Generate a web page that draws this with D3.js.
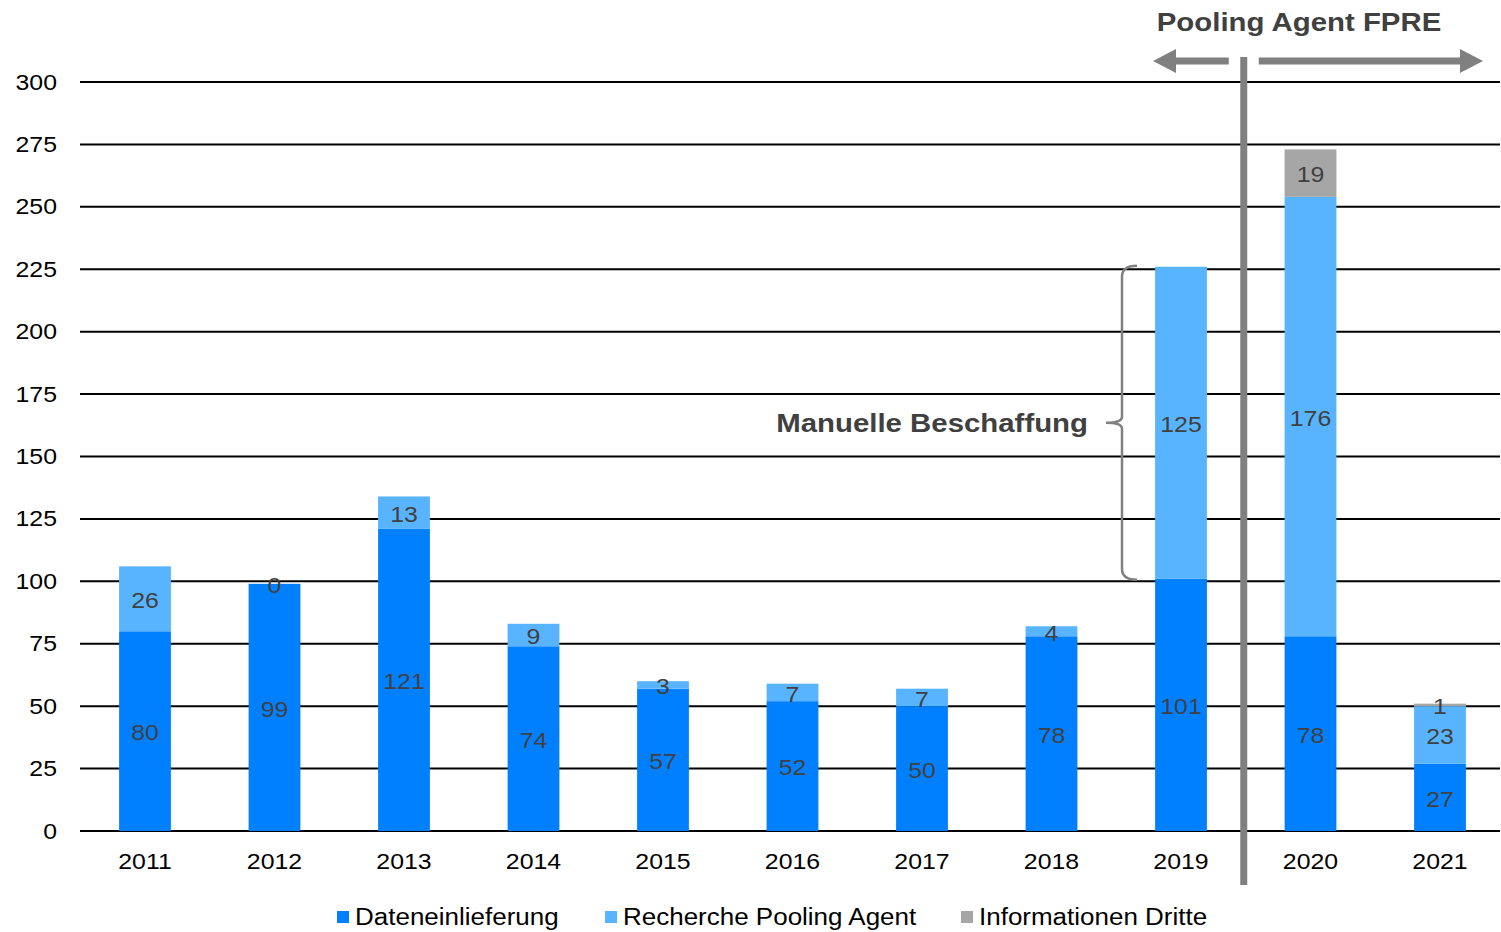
<!DOCTYPE html>
<html>
<head>
<meta charset="utf-8">
<script src="https://cdn.jsdelivr.net/npm/d3@7"></script>
<style>
  body { margin: 0; background: #fff; }
  text { font-family: "Liberation Sans", Arial, sans-serif; }
</style>
</head>
<body>
<svg id="chart" width="1501" height="932"></svg>
<script>
const years = ["2011", "2012", "2013", "2014", "2015", "2016", "2017", "2018", "2019", "2020", "2021"];
const dateneinlieferung = [80, 99, 121, 74, 57, 52, 50, 78, 101, 78, 27];
const recherche = [26, 0, 13, 9, 3, 7, 7, 4, 125, 176, 23];
const informationen = [0, 0, 0, 0, 0, 0, 0, 0, 0, 19, 1];
const seriesNames = ["Dateneinlieferung", "Recherche Pooling Agent", "Informationen Dritte"];
const yTicks = [0, 25, 50, 75, 100, 125, 150, 175, 200, 225, 250, 275, 300];

const colors = ["#0080ff", "#59b4ff", "#a6a6a6"];
const plotLeft = 80, plotRight = 1500, plotTop = 82, plotBottom = 831;
const stretch = 1.13; // reference glyphs are a bit wider than plain Arial

const svg = d3.select("#chart");

const x = d3.scaleBand().domain(years).range([80.25, 1504.75]).paddingInner(0.6).paddingOuter(0.3);
const y = d3.scaleLinear().domain([0, 300]).range([plotBottom, plotTop]);

// gridlines
svg.append("g").selectAll("line").data(yTicks).join("line")
  .attr("x1", plotLeft).attr("x2", plotRight)
  .attr("y1", d => y(d)).attr("y2", d => y(d))
  .attr("stroke", "#000").attr("stroke-width", 2);

// y labels
let yAxis = svg.append("g").attr("transform", `translate(${plotLeft},0)`)
  .call(d3.axisLeft(y).tickValues(yTicks).tickSize(0).tickPadding(23));
yAxis.select(".domain").remove();
yAxis.selectAll("text").attr("font-size", 22).attr("fill", "#000")
  .attr("font-family", "Liberation Sans, Arial, sans-serif");

// x labels
let xAxis = svg.append("g").attr("transform", `translate(0,${plotBottom})`)
  .call(d3.axisBottom(x).tickSize(0).tickPadding(22));
xAxis.select(".domain").remove();
xAxis.selectAll("text").attr("font-size", 22).attr("fill", "#000")
  .attr("font-family", "Liberation Sans, Arial, sans-serif");

const table = years.map((yr, i) => ({ year: yr, s0: dateneinlieferung[i], s1: recherche[i], s2: informationen[i] }));
const stack = d3.stack().keys(["s0", "s1", "s2"])(table);

const groups = svg.append("g").selectAll("g").data(stack).join("g")
  .attr("fill", (d, i) => colors[i]);
groups.selectAll("rect").data(d => d).join("rect")
  .attr("x", d => x(d.data.year))
  .attr("width", x.bandwidth())
  .attr("y", d => y(d[1]))
  .attr("height", d => y(d[0]) - y(d[1]));

// value labels
stack.forEach((layer, li) => {
  svg.append("g").selectAll("text").data(layer.filter(d => li < 2 || d[1] - d[0] > 0)).join("text")
    .attr("x", d => x(d.data.year) + x.bandwidth() / 2)
    .attr("y", d => y((d[0] + d[1]) / 2))
    .attr("dy", "0.42em")
    .attr("text-anchor", "middle")
    .attr("font-size", 22)
    .attr("fill", "#404040")
    .text(d => d[1] - d[0]);
});

// separator between 2019 and 2020
const sepX = (x("2019") + x.bandwidth() + x("2020")) / 2 - 2;
svg.append("line").attr("x1", sepX).attr("x2", sepX).attr("y1", 57).attr("y2", 885)
  .attr("stroke", "#808080").attr("stroke-width", 7);

// arrows
const arrowY = 61;
function arrow(x1, x2) {
  const dir = Math.sign(x2 - x1);
  const headLen = 23;
  svg.append("line").attr("x1", x1).attr("x2", x2 - dir * headLen)
    .attr("y1", arrowY).attr("y2", arrowY)
    .attr("stroke", "#808080").attr("stroke-width", 7);
  svg.append("path")
    .attr("d", `M${x2},${arrowY} L${x2 - dir * headLen},${arrowY - 12} L${x2 - dir * headLen},${arrowY + 12} Z`)
    .attr("fill", "#808080");
}
arrow(sepX - 15, 1153);
arrow(sepX + 15, 1483);

svg.append("text").attr("x", 1299).attr("y", 31).attr("text-anchor", "middle")
  .attr("font-size", 26).attr("font-weight", "bold").attr("fill", "#404040")
  .text("Pooling Agent FPRE");

// bracket for 2019 recherche
const bTop = y(dateneinlieferung[8] + recherche[8]), bBot = y(dateneinlieferung[8]);
const bx = 1122, bMid = (bTop + bBot) / 2;
svg.append("path")
  .attr("d", `M${bx + 15},${bTop - 1} Q${bx},${bTop - 1} ${bx},${bTop + 10} L${bx},${bMid - 6} Q${bx},${bMid} ${bx - 16},${bMid} Q${bx},${bMid} ${bx},${bMid + 6} L${bx},${bBot - 10} Q${bx},${bBot + 1} ${bx + 15},${bBot + 1}`)
  .attr("fill", "none").attr("stroke", "#808080").attr("stroke-width", 2.5);
svg.append("text").attr("x", 1088).attr("y", bMid).attr("dy", "0.36em").attr("text-anchor", "end")
  .attr("font-size", 26).attr("font-weight", "bold").attr("fill", "#404040")
  .text("Manuelle Beschaffung");

// legend
const legendX = [337, 605, 961];
const legend = svg.append("g").selectAll("g").data(seriesNames).join("g")
  .attr("transform", (d, i) => `translate(${legendX[i]},917)`);
legend.append("rect").attr("x", 0).attr("y", -6).attr("width", 12).attr("height", 12)
  .attr("fill", (d, i) => colors[i]);
legend.append("text").attr("x", 18).attr("dy", "0.36em").attr("font-size", 23).attr("fill", "#000")
  .text(d => d);

// widen the glyphs horizontally around each text's anchor point
svg.selectAll("text").each(function () {
  const ax = +this.getAttribute("x") || 0;
  d3.select(this).attr("transform", `translate(${ax},0) scale(${stretch},1) translate(${-ax},0)`);
});
</script>
</body>
</html>
